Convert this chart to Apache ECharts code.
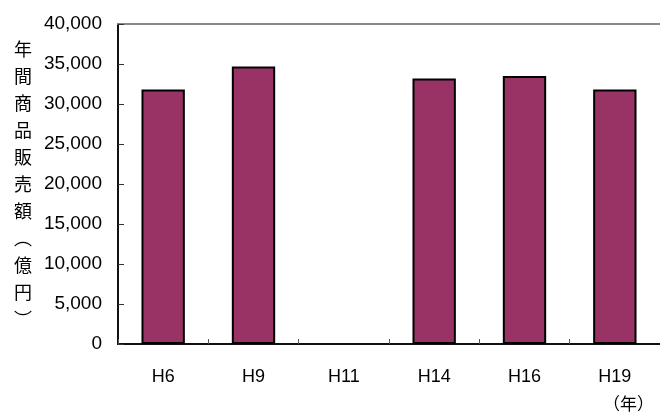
<!DOCTYPE html>
<html>
<head>
<meta charset="utf-8">
<style>
  html, body { margin: 0; padding: 0; background: #fff; }
  #chart { width: 660px; height: 415px; }
</style>
<script src="https://cdn.jsdelivr.net/npm/echarts@6/dist/echarts.min.js"></script>
</head>
<body>
<div id="chart"></div>
<script>
// Annual retail sales (100 million yen) by survey year
const categories = ['H6', 'H9', 'H11', 'H14', 'H16', 'H19'];
const salesValues = [31800, 34700, null, 33200, 33500, 31800];
const yTickMin = 0;
const yTickMax = 40000;
const yTickStep = 5000;
const yAxisTitle = ['年', '間', '商', '品', '販', '売', '額', '︵', '億', '円', '︶'];
const xAxisUnit = '（年）';

const latin = '"Liberation Sans", Arial, sans-serif';
const cjk = '"Noto Sans CJK JP", sans-serif';

const chart = echarts.init(document.getElementById('chart'));
chart.setOption({
  animation: false,
  backgroundColor: '#fff',
  grid: { left: 118, top: 24, width: 552, height: 320 },
  xAxis: [
    {
      type: 'category',
      data: categories,
      position: 'bottom',
      axisLine: { lineStyle: { color: '#111', width: 2 } },
      axisTick: { show: true, inside: true, length: 5, lineStyle: { color: '#555', width: 1 } },
      axisLabel: { color: '#000', fontFamily: latin, fontSize: 18, margin: 24 }
    },
    {
      type: 'category',
      data: categories,
      position: 'top',
      axisLine: { lineStyle: { color: '#888', width: 2 } },
      axisTick: { show: false },
      axisLabel: { show: false }
    }
  ],
  yAxis: {
    type: 'value',
    min: yTickMin,
    max: yTickMax,
    interval: yTickStep,
    name: yAxisTitle.join('\n'),
    nameLocation: 'middle',
    nameRotate: 0,
    nameGap: 86,
    nameTextStyle: { color: '#000', fontFamily: cjk, fontSize: 18, lineHeight: 27 },
    axisLine: { show: true, lineStyle: { color: '#111', width: 2 } },
    axisTick: { show: true, inside: true, length: 6, lineStyle: { color: '#333', width: 1 } },
    splitLine: { show: false },
    axisLabel: {
      color: '#000',
      fontFamily: latin,
      fontSize: 19,
      margin: 16,
      formatter: v => v.toLocaleString('en-US')
    }
  },
  series: [
    {
      type: 'bar',
      data: salesValues,
      barWidth: '48%',
      itemStyle: { color: '#993366', borderColor: '#000', borderWidth: 2 }
    }
  ],
  title: {
    text: xAxisUnit,
    left: 603,
    top: 395,
    textStyle: { color: '#000', fontFamily: cjk, fontSize: 17, fontWeight: 'normal' },
    padding: 0
  }
});
</script>
</body>
</html>
